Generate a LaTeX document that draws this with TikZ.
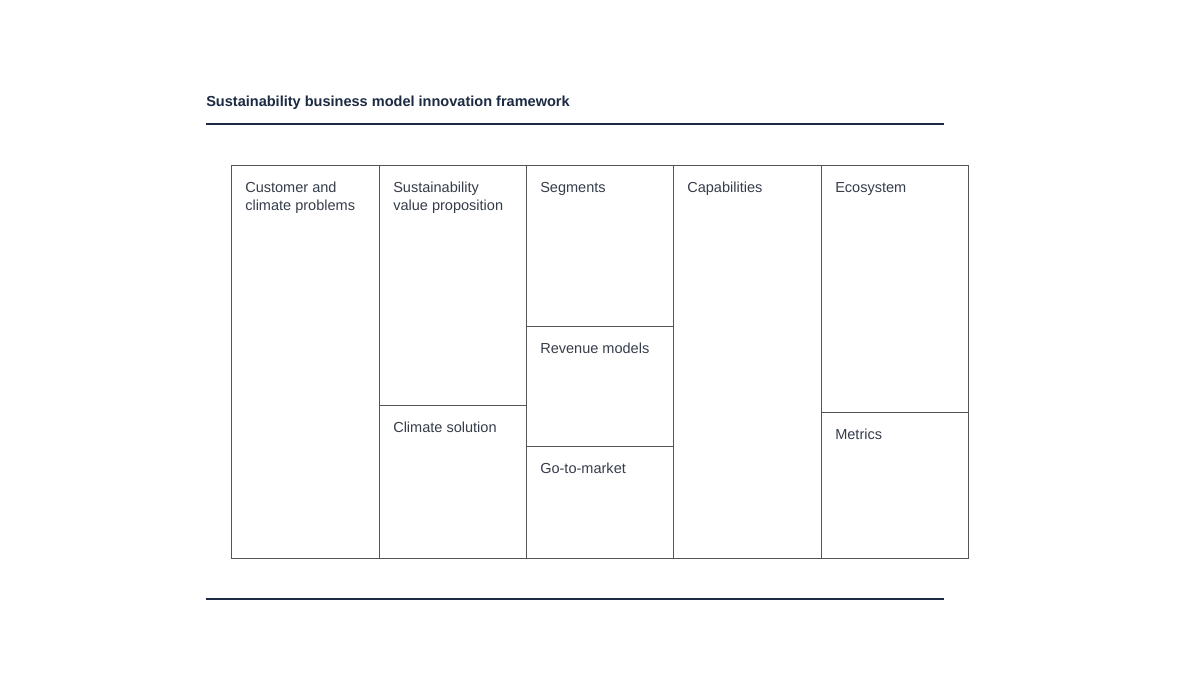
\documentclass[tikz,border=0pt]{standalone}
\usepackage{fontspec}
\setmainfont{Liberation Sans}
\definecolor{navy}{HTML}{1C2A42}
\definecolor{txt}{HTML}{363D4A}
\definecolor{edge}{HTML}{555555}
\begin{document}
\begin{tikzpicture}[x=0.75pt,y=-0.75pt,
  cell/.style={draw=edge,line width=0.7pt,anchor=north west,inner sep=0pt,outer sep=0pt},
  lab/.style={anchor=base west,inner sep=0pt,align=left,text=txt,font=\fontsize{10.9}{13.5}\selectfont},
  rule/.style={draw=navy,line width=1pt}]
\useasboundingbox[fill=white] (0,0) rectangle (1200,675);
% title and rules
\node[anchor=base west,inner sep=0pt,text=navy,font=\fontsize{10.9}{13}\selectfont\bfseries] (title) at (206,106) {Sustainability business model innovation framework};
\coordinate (t1) at (206,124); \coordinate (t2) at (944,124);
\coordinate (b1) at (206,599); \coordinate (b2) at (944,599);
\draw[rule] (t1) -- (t2);
\draw[rule] (b1) -- (b2);
% cells
\node[cell,minimum width=111pt,minimum height=294.75pt] (c1) at (231,165) {};
\node[cell,minimum width=110.25pt,minimum height=180pt] (c2a) at (379,165) {};
\node[cell,minimum width=110.25pt,minimum height=114.75pt] (c2b) at (379,405) {};
\node[cell,minimum width=110.25pt,minimum height=120.75pt] (c3a) at (526,165) {};
\node[cell,minimum width=110.25pt,minimum height=90pt] (c3b) at (526,326) {};
\node[cell,minimum width=110.25pt,minimum height=84pt] (c3c) at (526,446) {};
\node[cell,minimum width=111pt,minimum height=294.75pt] (c4) at (673,165) {};
\node[cell,minimum width=110.25pt,minimum height=185.25pt] (c5a) at (821,165) {};
\node[cell,minimum width=110.25pt,minimum height=109.5pt] (c5b) at (821,412) {};
% labels
\node[lab] (l1) at ([xshift=10.5pt,yshift=-33.75pt]c1.north west) {Customer and\\climate problems};
\node[lab] (l2a) at ([xshift=10.5pt,yshift=-33.75pt]c2a.north west) {Sustainability\\value proposition};
\node[lab] (l2b) at ([xshift=10.5pt,yshift=-20.25pt]c2b.north west) {Climate solution};
\node[lab] (l3a) at ([xshift=10.5pt,yshift=-20.25pt]c3a.north west) {Segments};
\node[lab] (l3b) at ([xshift=10.5pt,yshift=-20.25pt]c3b.north west) {Revenue models};
\node[lab] (l3c) at ([xshift=10.5pt,yshift=-20.25pt]c3c.north west) {Go-to-market};
\node[lab] (l4) at ([xshift=10.5pt,yshift=-20.25pt]c4.north west) {Capabilities};
\node[lab] (l5a) at ([xshift=10.5pt,yshift=-20.25pt]c5a.north west) {Ecosystem};
\node[lab] (l5b) at ([xshift=10.5pt,yshift=-20.25pt]c5b.north west) {Metrics};
\end{tikzpicture}
\end{document}
